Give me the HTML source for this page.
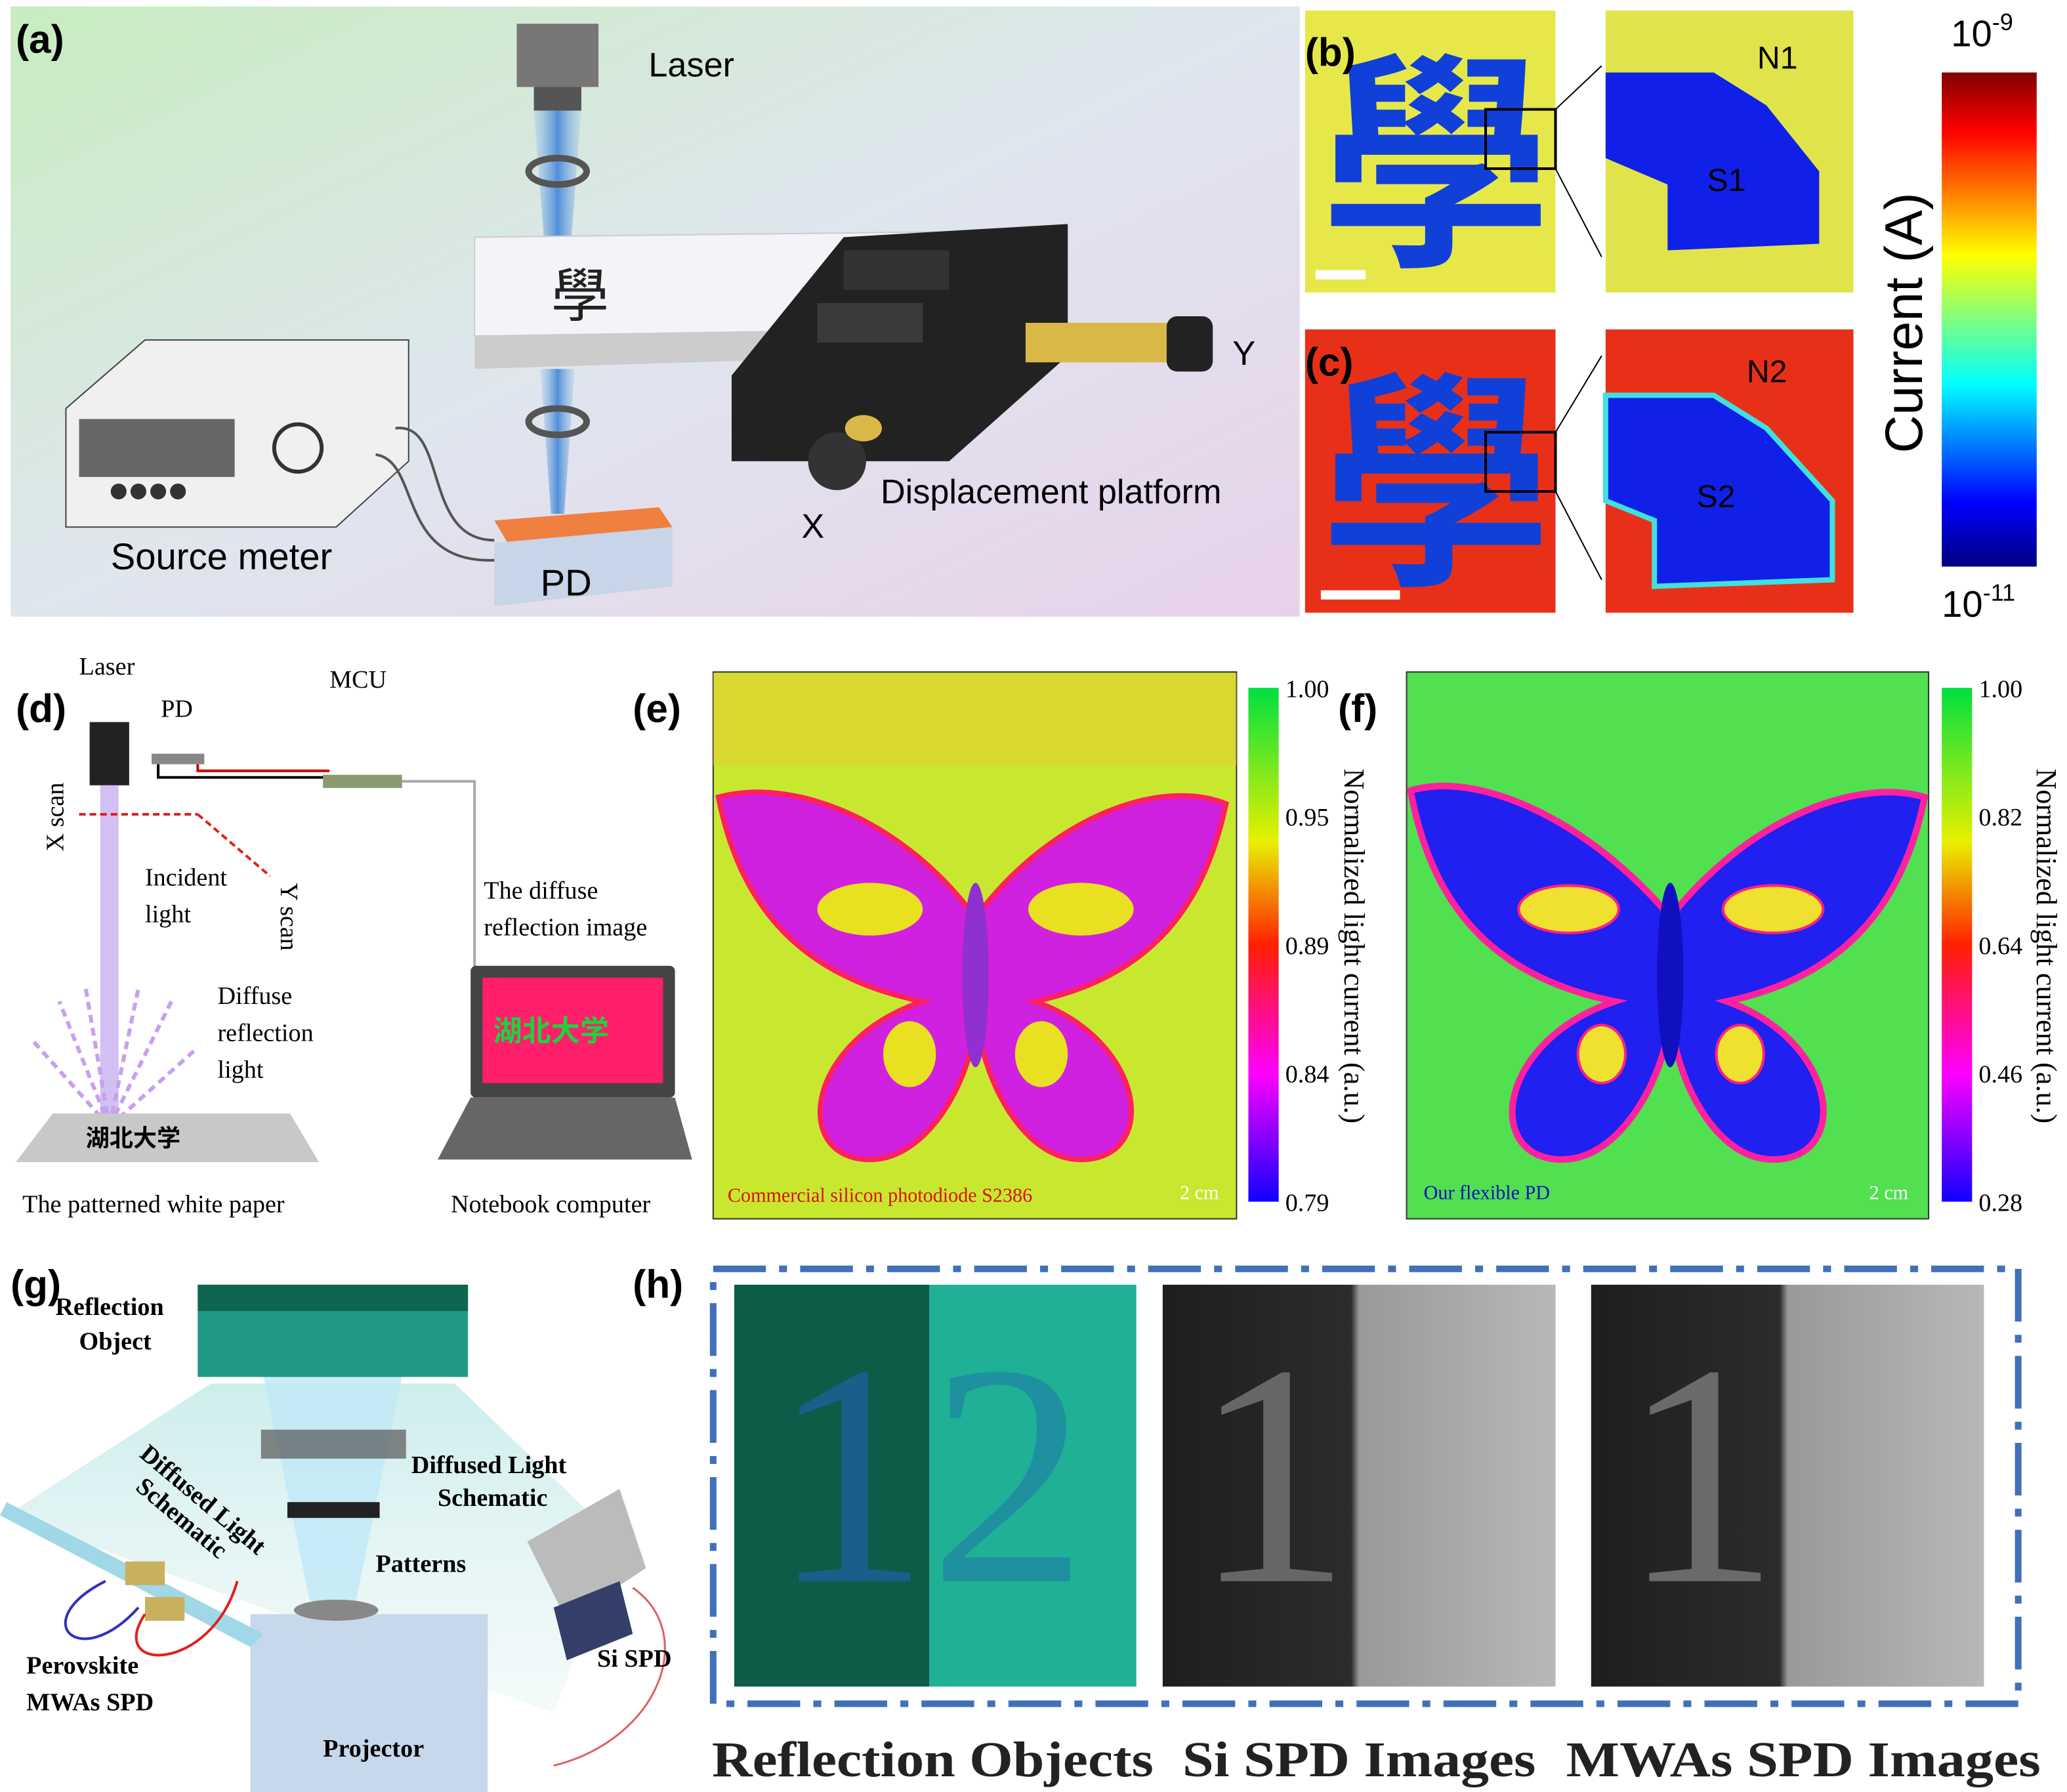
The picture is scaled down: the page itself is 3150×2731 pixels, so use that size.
<!DOCTYPE html>
<html><head><meta charset="utf-8"><style>
html,body{margin:0;padding:0;background:#fff;}
svg{display:block;}
text{font-family:"Liberation Sans","Noto Sans CJK SC",sans-serif;}
text.serif,.serif text{font-family:"Liberation Serif","Noto Serif CJK SC",serif;}
text.cjk{font-family:"Noto Sans CJK SC",sans-serif;}
</style></head><body>
<svg width="3150" height="2731" viewBox="0 0 1568 1360" preserveAspectRatio="none" xmlns="http://www.w3.org/2000/svg">
<defs>
<linearGradient id="bgA" x1="0" y1="0" x2="1" y2="1"><stop offset="0" stop-color="#c8ecc0"/><stop offset="0.5" stop-color="#dfe6ee"/><stop offset="1" stop-color="#e8d2ea"/></linearGradient>
<linearGradient id="jet" x1="0" y1="0" x2="0" y2="1"><stop offset="0" stop-color="#800000"/><stop offset="0.12" stop-color="#ff0000"/><stop offset="0.37" stop-color="#ffff00"/><stop offset="0.5" stop-color="#80ff80"/><stop offset="0.63" stop-color="#00ffff"/><stop offset="0.87" stop-color="#0000ff"/><stop offset="1" stop-color="#000080"/></linearGradient>
<linearGradient id="cbE" x1="0" y1="0" x2="0" y2="1"><stop offset="0" stop-color="#00e040"/><stop offset="0.3" stop-color="#e8f000"/><stop offset="0.5" stop-color="#ff2000"/><stop offset="0.75" stop-color="#ff00ff"/><stop offset="1" stop-color="#1000ff"/></linearGradient>
<linearGradient id="beam" x1="0" y1="0" x2="1" y2="0"><stop offset="0" stop-color="#9fc4ea" stop-opacity="0.3"/><stop offset="0.5" stop-color="#4f8ed8"/><stop offset="1" stop-color="#9fc4ea" stop-opacity="0.3"/></linearGradient>
<linearGradient id="teal" x1="0" y1="0" x2="0" y2="1"><stop offset="0" stop-color="#b8e6e4"/><stop offset="1" stop-color="#e6f4f4" stop-opacity="0.6"/></linearGradient>
<linearGradient id="grayA" x1="0" y1="0" x2="1" y2="0"><stop offset="0" stop-color="#1e1e1e"/><stop offset="0.48" stop-color="#2c2c2c"/><stop offset="0.5" stop-color="#999"/><stop offset="1" stop-color="#b8b8b8"/></linearGradient>
</defs>

<g>
<rect x="8" y="5" width="978" height="463" fill="url(#bgA)"/>
<text x="12" y="40" font-size="30" font-weight="bold">(a)</text>
<rect x="392" y="18" width="62" height="48" fill="#777"/>
<rect x="405" y="66" width="36" height="18" fill="#555"/>
<text x="492" y="58" font-size="26">Laser</text>
<polygon points="405,84 441,84 428,250 418,250" fill="url(#beam)"/>
<ellipse cx="423" cy="130" rx="22" ry="10" fill="none" stroke="#555" stroke-width="5"/>
<polygon points="360,180 800,175 690,250 360,255" fill="#f4f4f8" stroke="#ccc"/>
<polygon points="360,255 690,250 690,270 360,280" fill="#ccc"/>
<text x="418" y="240" font-size="44" fill="#222" class="cjk">學</text>
<polygon points="410,280 436,280 428,390 418,390" fill="url(#beam)"/>
<ellipse cx="423" cy="320" rx="22" ry="10" fill="none" stroke="#555" stroke-width="5"/>
<polygon points="555,285 640,180 810,170 810,270 720,350 555,350" fill="#222"/>
<rect x="640" y="190" width="80" height="30" fill="#333"/>
<rect x="620" y="230" width="80" height="30" fill="#3a3a3a"/>
<rect x="778" y="245" width="110" height="30" fill="#d9b848"/>
<rect x="885" y="240" width="35" height="42" rx="8" fill="#222"/>
<text x="935" y="277" font-size="26">Y</text>
<circle cx="635" cy="350" r="22" fill="#333"/>
<ellipse cx="655" cy="325" rx="14" ry="10" fill="#d9b848"/>
<text x="668" y="382" font-size="26">Displacement platform</text>
<text x="608" y="408" font-size="26">X</text>
<polygon points="50,310 110,258 310,258 310,350 255,400 50,400" fill="#f0f0f0" stroke="#444"/>
<rect x="60" y="318" width="118" height="44" fill="#666"/>
<circle cx="226" cy="340" r="18" fill="none" stroke="#333" stroke-width="3"/>
<circle cx="90" cy="373" r="6" fill="#333"/><circle cx="105" cy="373" r="6" fill="#333"/><circle cx="120" cy="373" r="6" fill="#333"/><circle cx="135" cy="373" r="6" fill="#333"/>
<text x="84" y="432" font-size="28">Source meter</text>
<path d="M300,325 C340,320 320,410 375,410" stroke="#555" stroke-width="2" fill="none"/>
<path d="M285,345 C320,350 300,430 378,425" stroke="#555" stroke-width="2" fill="none"/>
<polygon points="375,395 500,385 510,400 385,412" fill="#f08040"/>
<polygon points="375,412 510,400 510,445 375,460" fill="#c8d4e8"/>
<text x="410" y="452" font-size="28">PD</text>
</g>

<g>
<rect x="990" y="8" width="190" height="214" fill="#e6e84a"/>
<text x="1002" y="188" font-size="175" font-weight="bold" fill="#1040d8" class="cjk">學</text>
<rect x="1127" y="83" width="53" height="45" fill="none" stroke="#000" stroke-width="2"/>
<rect x="998" y="205" width="38" height="7" fill="#fff"/>
<text x="990" y="50" font-size="30" font-weight="bold">(b)</text>
<line x1="1180" y1="83" x2="1215" y2="50" stroke="#000"/><line x1="1180" y1="128" x2="1215" y2="195" stroke="#000"/>
<rect x="1218" y="8" width="188" height="214" fill="#e0e44a"/>
<path d="M1218,55 L1300,55 L1340,80 L1380,130 L1380,185 L1265,190 L1265,140 L1218,120 Z" fill="#1020e8"/>
<text x="1333" y="52" font-size="24">N1</text><text x="1295" y="145" font-size="24">S1</text>
</g>
<g>
<rect x="990" y="250" width="190" height="215" fill="#e83018"/>
<text x="1002" y="430" font-size="175" font-weight="bold" fill="#1040d8" class="cjk">學</text>
<rect x="1127" y="328" width="53" height="45" fill="none" stroke="#000" stroke-width="2"/>
<rect x="1002" y="448" width="60" height="7" fill="#fff"/>
<text x="990" y="285" font-size="30" font-weight="bold">(c)</text>
<line x1="1180" y1="328" x2="1215" y2="270" stroke="#000"/><line x1="1180" y1="373" x2="1215" y2="440" stroke="#000"/>
<rect x="1218" y="250" width="188" height="215" fill="#e83018"/>
<path d="M1218,300 L1300,300 L1340,325 L1390,380 L1390,440 L1255,445 L1255,395 L1218,380 Z" fill="#1020e8" stroke="#40e0e0" stroke-width="4"/>
<text x="1325" y="290" font-size="24">N2</text><text x="1287" y="385" font-size="24">S2</text>
</g>
<g>
<rect x="1473" y="55" width="72" height="375" fill="url(#jet)"/>
<text x="1480" y="35" font-size="28">10<tspan font-size="18" dy="-12">-9</tspan></text>
<text x="1473" y="468" font-size="28">10<tspan font-size="18" dy="-12">-11</tspan></text>
<text transform="translate(1458,245) rotate(-90)" font-size="40" text-anchor="middle">Current (A)</text>
</g>

<g>
<text x="12" y="548" font-size="30" font-weight="bold">(d)</text>
<g class="serif">
<text x="60" y="512" font-size="19">Laser</text>
<text x="122" y="544" font-size="19">PD</text>
<text x="250" y="522" font-size="19">MCU</text>
<text transform="translate(48,620) rotate(-90)" font-size="19" text-anchor="middle">X scan</text>
<text transform="translate(213,670) rotate(90)" font-size="19">Y scan</text>
<text x="110" y="672" font-size="19">Incident</text><text x="110" y="700" font-size="19">light</text>
<text x="165" y="762" font-size="19">Diffuse</text><text x="165" y="790" font-size="19">reflection</text><text x="165" y="818" font-size="19">light</text>
<text x="17" y="920" font-size="19">The patterned white paper</text>
<text x="367" y="682" font-size="19">The diffuse</text><text x="367" y="710" font-size="19">reflection image</text>
<text x="342" y="920" font-size="19">Notebook computer</text>
</g>
<rect x="68" y="548" width="30" height="48" fill="#222"/>
<rect x="76" y="596" width="14" height="260" fill="#c8b0f0" opacity="0.8"/>
<rect x="115" y="572" width="40" height="8" fill="#888"/>
<polyline points="120,580 120,590 250,590" stroke="#000" stroke-width="2" fill="none"/>
<polyline points="150,580 150,585 250,585" stroke="#c00" stroke-width="2" fill="none"/>
<rect x="245" y="588" width="60" height="10" fill="#8a9a70"/>
<polyline points="305,593 360,593 360,880" stroke="#aaa" stroke-width="2" fill="none"/>
<line x1="60" y1="618" x2="150" y2="618" stroke="#e02020" stroke-dasharray="5,3" stroke-width="2"/>
<line x1="150" y1="618" x2="205" y2="665" stroke="#e02020" stroke-dasharray="5,3" stroke-width="2"/>
<g stroke="#c8a0f0" stroke-width="3" stroke-dasharray="6,4">
<line x1="83" y1="855" x2="25" y2="790"/><line x1="83" y1="855" x2="45" y2="760"/><line x1="83" y1="855" x2="65" y2="750"/><line x1="83" y1="855" x2="105" y2="750"/><line x1="83" y1="855" x2="130" y2="760"/><line x1="83" y1="855" x2="150" y2="795"/></g>
<polygon points="40,845 220,845 242,882 12,882" fill="#c8c8c8"/>
<text x="65" y="870" font-size="18" font-weight="bold" class="cjk">湖北大学</text>
<rect x="357" y="733" width="155" height="100" rx="4" fill="#444"/>
<rect x="366" y="742" width="137" height="80" fill="#ff1f6a"/>
<text x="374" y="790" font-size="22" fill="#20d040" font-weight="bold" class="cjk">湖北大学</text>
<polygon points="357,833 512,833 525,880 332,880" fill="#666"/>
</g>

<g>
<text x="480" y="548" font-size="30" font-weight="bold">(e)</text>
<rect x="541" y="510" width="397" height="415" fill="#c8e830" stroke="#333"/>
<rect x="541" y="511" width="397" height="70" fill="#e8c830" opacity="0.5"/>
<g fill="#d020e0" stroke="#ff2060" stroke-width="4">
<path d="M735,690 C680,620 600,590 545,605 C560,680 600,740 700,760 C610,790 600,880 660,880 C700,880 730,830 738,790 Z"/>
<path d="M745,690 C800,620 880,590 930,610 C915,680 880,740 785,760 C870,790 880,880 820,880 C780,880 752,830 744,790 Z"/>
</g>
<g fill="#e8e020"><ellipse cx="660" cy="690" rx="40" ry="20"/><ellipse cx="820" cy="690" rx="40" ry="20"/><ellipse cx="690" cy="800" rx="20" ry="25"/><ellipse cx="790" cy="800" rx="20" ry="25"/></g>
<ellipse cx="740" cy="740" rx="10" ry="70" fill="#9030d0"/>
<text x="552" y="912" font-size="15" fill="#e01010" class="serif">Commercial silicon photodiode S2386</text>
<text x="895" y="910" font-size="15" fill="#fff" class="serif">2 cm</text>
<rect x="947" y="522" width="23" height="390" fill="url(#cbE)"/>
<g id="ticksE" class="serif"></g>
<text transform="translate(1020,718) rotate(90)" font-size="22" text-anchor="middle" class="serif">Normalized light current (a.u.)</text>
</g>

<g>
<text x="1015" y="548" font-size="30" font-weight="bold">(f)</text>
<rect x="1067" y="510" width="396" height="415" fill="#50e050" stroke="#333"/>
<g fill="#2020f0" stroke="#ff20a0" stroke-width="5">
<path d="M1262,690 C1200,620 1120,585 1070,600 C1085,680 1125,740 1225,760 C1135,790 1125,880 1185,880 C1225,880 1255,830 1264,790 Z"/>
<path d="M1272,690 C1330,620 1410,590 1460,605 C1445,680 1405,740 1310,760 C1395,790 1405,880 1345,880 C1305,880 1278,830 1270,790 Z"/>
</g>
<g fill="#f0e030" stroke="#ff2080" stroke-width="2"><ellipse cx="1190" cy="690" rx="38" ry="18"/><ellipse cx="1345" cy="690" rx="38" ry="18"/><ellipse cx="1215" cy="800" rx="18" ry="22"/><ellipse cx="1320" cy="800" rx="18" ry="22"/></g>
<ellipse cx="1267" cy="740" rx="10" ry="70" fill="#1010c0"/>
<text x="1080" y="910" font-size="15" fill="#1010c0" class="serif">Our flexible PD</text>
<text x="1418" y="910" font-size="15" fill="#fff" class="serif">2 cm</text>
<rect x="1473" y="522" width="23" height="390" fill="url(#cbE)"/>
<g id="ticksF" class="serif"></g>
<text transform="translate(1545,718) rotate(90)" font-size="22" text-anchor="middle" class="serif">Normalized light current (a.u.)</text>
</g>

<g>
<text x="8" y="985" font-size="30" font-weight="bold">(g)</text>
<polygon points="160,1050 345,1050 470,1170 420,1300 5,1150" fill="url(#teal)" opacity="0.7"/>
<rect x="150" y="975" width="205" height="70" fill="#1f9a84"/>
<rect x="150" y="975" width="205" height="20" fill="#0e6650"/>
<polygon points="200,1045 305,1045 270,1215 235,1215" fill="#bfe8f6" opacity="0.8"/>
<rect x="198" y="1085" width="110" height="22" fill="#555" opacity="0.7"/>
<rect x="218" y="1140" width="70" height="12" fill="#222"/>
<rect x="190" y="1225" width="180" height="135" fill="#c8d8ec"/>
<ellipse cx="255" cy="1222" rx="32" ry="8" fill="#888"/>
<polygon points="5,1140 200,1240 190,1250 0,1150" fill="#a0d8e8"/>
<rect x="95" y="1185" width="30" height="18" fill="#c8b060"/><rect x="110" y="1212" width="30" height="18" fill="#c8b060"/>
<path d="M80,1200 C20,1230 60,1270 105,1220" stroke="#3030c0" fill="none" stroke-width="2"/>
<path d="M110,1225 C80,1270 160,1270 180,1200" stroke="#e02020" fill="none" stroke-width="2"/>
<polygon points="400,1170 470,1130 490,1190 430,1230" fill="#bbb"/>
<polygon points="420,1220 470,1200 480,1240 430,1260" fill="#34406a"/>
<path d="M480,1205 C530,1240 500,1320 420,1340" stroke="#e06060" fill="none" stroke-width="1.5"/>
<g class="serif" font-size="19" font-weight="bold">
<text x="42" y="998">Reflection</text><text x="60" y="1024">Object</text>
<text x="312" y="1118">Diffused Light</text><text x="332" y="1143">Schematic</text>
<text x="285" y="1193">Patterns</text>
<text transform="translate(105,1105) rotate(40)">Diffused Light</text>
<text transform="translate(102,1130) rotate(40)">Schematic</text>
<text x="20" y="1270">Perovskite</text><text x="20" y="1298">MWAs SPD</text>
<text x="453" y="1265">Si SPD</text>
<text x="245" y="1333">Projector</text>
</g>
</g>

<g>
<text x="480" y="985" font-size="30" font-weight="bold">(h)</text>
<rect x="541" y="963" width="990" height="330" fill="none" stroke="#4070b8" stroke-width="5" stroke-dasharray="40,10,6,10"/>
<rect x="557" y="975" width="148" height="305" fill="#0d5c48"/>
<rect x="705" y="975" width="157" height="305" fill="#20b095"/>
<g class="serif">
<text x="585" y="1200" font-size="240" fill="#1a5e8a">1</text>
<text x="705" y="1200" font-size="240" fill="#1e90a0">2</text>
</g>
<rect x="882" y="975" width="298" height="305" fill="url(#grayA)"/>
<rect x="1207" y="975" width="298" height="305" fill="url(#grayA)"/>
<g class="serif">
<text x="905" y="1200" font-size="240" fill="#666">1</text>
<text x="1230" y="1200" font-size="240" fill="#6a6a6a">1</text>
</g>
<g class="serif" font-size="38" font-weight="bold" fill="#222">
<text x="540" y="1348" textLength="335" lengthAdjust="spacingAndGlyphs">Reflection Objects</text>
<text x="897" y="1348" textLength="268" lengthAdjust="spacingAndGlyphs">Si SPD Images</text>
<text x="1188" y="1348" textLength="360" lengthAdjust="spacingAndGlyphs">MWAs SPD Images</text>
</g>
</g>
</svg>
<script>
const ticksE = ["1.00","0.95","0.89","0.84","0.79"];
const ticksF = ["1.00","0.82","0.64","0.46","0.28"];
function drawTicks(id, labels, x, y0, y1){
  const g=document.getElementById(id);
  labels.forEach((t,i)=>{
    const y=y0+(y1-y0)*i/(labels.length-1);
    const el=document.createElementNS("http://www.w3.org/2000/svg","text");
    
    
    el.setAttribute("x",x);el.setAttribute("y",y+7);el.setAttribute("font-size","19");
    el.textContent=t;g.appendChild(el);
  });
}
drawTicks("ticksE",ticksE,975,522,912);
drawTicks("ticksF",ticksF,1501,522,912);
</script>
</body></html>
